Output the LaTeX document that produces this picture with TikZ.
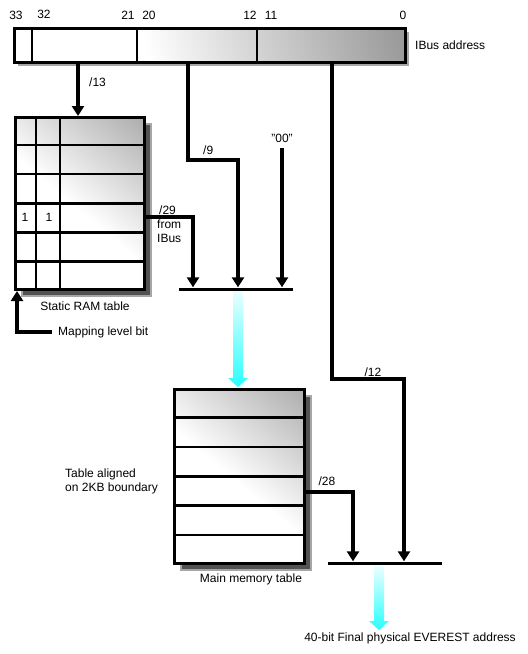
\documentclass[tikz,border=0pt]{standalone}
\usepackage{fontspec}
\setmainfont{Liberation Sans}
\usetikzlibrary{arrows.meta,shadows,calc,positioning}

\pgfdeclareverticalshading{tablefade}{100bp}{color(0bp)=(white); color(48bp)=(white); color(100bp)=(black!45)}
\pgfdeclareverticalshading{barfade}{100bp}{color(0bp)=(white); color(40bp)=(white); color(100bp)=(black!60)}

\tikzset{
  every node/.style={font=\fontsize{12}{14}\selectfont, inner sep=0pt},
  wire/.style={line width=4pt},
  feed/.style={wire, -{Triangle[width=12pt,length=10pt]}},
  grid/.style={line width=2.5pt},
  tablebox/.style={draw, grid, shading=tablefade, shading angle=-40, minimum width=#1, anchor=north west,
    general shadow={fill=black!68, draw=black!35, line width=2pt, shadow xshift=7pt, shadow yshift=-7pt}},
  busbar/.style={fill=black, minimum height=3pt, minimum width=#1},
  fatarrow/.style={top color=cyan!8, bottom color=cyan!85},
}

\begin{document}
\begin{tikzpicture}[x=1pt, y=-1pt]
  \useasboundingbox (0,0) rectangle (528,654);

  % IBus address register
  \node[draw, grid, minimum width=391pt, minimum height=34pt, anchor=north west,
        shading=barfade, shading angle=-75,
        general shadow={fill=black!35, shadow xshift=4pt, shadow yshift=-4pt}] (ibus) at (13,27) {};
  \foreach \x in {32,137,257}
    \draw[grid] (\x,27) -- (\x,61);
  \node (b33) at (16,15) {33};
  \node (b32) at (44,14) {32};
  \node (b21) at (128,15) {21};
  \node (b20) at (149,15) {20};
  \node (b12) at (250,15) {12};
  \node (b11) at (271,15) {11};
  \node (b0)  at (403,15) {0};
  \node[anchor=west] (ibuslabel) at (415,45) {IBus address};

  % static RAM table
  \node[tablebox=129pt, minimum height=172pt] (sram) at (14,116) {};
  \foreach \r in {1,...,5}
    \draw[grid] ($(sram.north west)!\r/6!(sram.south west)$) -- ($(sram.north east)!\r/6!(sram.south east)$);
  \foreach \x in {36,60}
    \draw[grid] (\x,116) -- (\x,288);
  \node (one1) at (25,217) {1};
  \node (one2) at (49,217) {1};
  \node (sramlabel) at (85,306) {Static RAM table};
  \node[anchor=west] (maplabel) at (58,332) {Mapping level bit};

  % main memory table
  \node[tablebox=130pt, minimum height=174pt] (mainmem) at (173,388) {};
  \foreach \r in {1,...,5}
    \draw[grid] ($(mainmem.north west)!\r/6!(mainmem.south west)$) -- ($(mainmem.north east)!\r/6!(mainmem.south east)$);
  \node (memlabel) at (251,579) {Main memory table};
  \node[anchor=west, align=left] (alignlabel) at (65,481) {Table aligned\\on 2KB boundary};

  % combining buses
  \node[busbar=114pt] (mux1) at (236,289) {};
  \node[busbar=114pt] (mux2) at (385,563) {};

  % taps on the IBus register
  \coordinate (tap13) at (78,61);
  \coordinate (tap9) at (188,61);
  \coordinate (tap12) at (332,61);

  \draw[feed] (tap13) -- (tap13 |- sram.north);
  \node[anchor=west] (l13) at (89,82) {/13};

  \draw[feed] (tap9) -- (188,160) -- (238,160) -- (238,0 |- mux1.north);
  \node[anchor=west] (l9) at (203,150) {/9};

  \coordinate (zeros) at (282,148);
  \node (lzeros) at (282,138) {"00"};
  \draw[feed] (zeros) -- (zeros |- mux1.north);

  \draw[feed] (sram.east |- 0,217) -- (193,217) -- (193,0 |- mux1.north);
  \node[anchor=west, align=left] (l29) at (157,224) {\,/29\\from\\IBus};

  \draw[feed] (maplabel.west) ++(-6,0) -- (17,332) -- (17,291);

  \draw[feed] (tap12) -- (332,379) -- (404,379) -- (404,0 |- mux2.north);
  \node (l12) at (373,372) {/12};

  \draw[feed] (mainmem.east |- 0,492) -- (353,492) -- (353,0 |- mux2.north);
  \node (l28) at (327,481) {/28};

  % address flow arrows
  \shade[fatarrow] (233,291) -- (243,291) -- (243,378) -- (248,378) -- (238,387) -- (228,378) -- (233,378) -- cycle;
  \shade[fatarrow] (374,566) -- (384,566) -- (384,621) -- (389,621) -- (379,630) -- (369,621) -- (374,621) -- cycle;
  \node (finallabel) at (410,638) {40-bit Final physical EVEREST address};
\end{tikzpicture}
\end{document}
